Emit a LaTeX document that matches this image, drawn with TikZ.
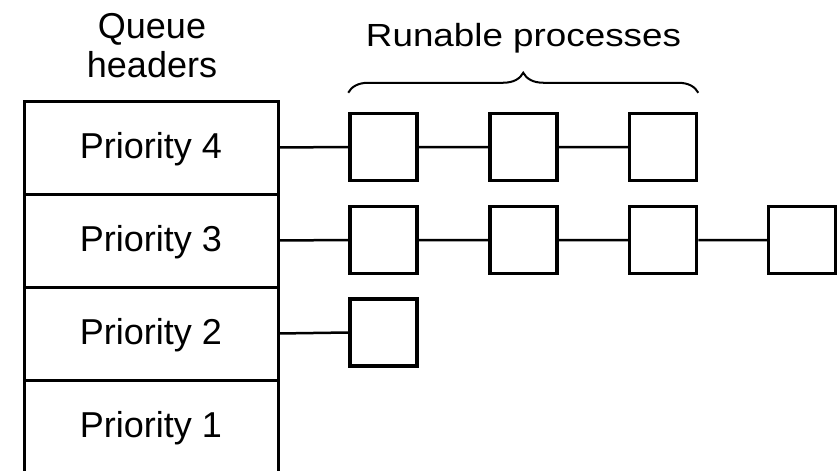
\documentclass[tikz,border=0pt]{standalone}
\usepackage{fontspec}
\setmainfont{Liberation Sans}
\usetikzlibrary{decorations.pathreplacing}
\tikzset{
  hdr/.style={draw, line width=3pt, minimum width=254pt, minimum height=93pt, inner sep=0pt, outer sep=0pt},
  proc/.style={draw, line width=3.5pt, minimum size=67pt, inner sep=0pt},
  link/.style={line width=2.5pt},
  lbl/.style={font=\fontsize{36}{39}\selectfont, inner sep=0pt, anchor=base},
  brc/.style={decorate, decoration={brace, amplitude=20pt}, line width=2pt}
}
\begin{document}
\begin{tikzpicture}[x=1pt,y=-1pt]
\useasboundingbox[fill=white] (0,0) rectangle (838,471);
% queue header rows
\node[hdr] (p4) at (151,147.5) {};
\node[hdr] (p3) at (151,240.5) {};
\node[hdr] (p2) at (151,333.5) {};
\node[hdr] (p1) at (151,426.5) {};
\node[lbl] (t4) at (151,158) {Priority 4};
\node[lbl] (t3) at (151,251) {Priority 3};
\node[lbl] (t2) at (151,344) {Priority 2};
\node[lbl] (t1) at (151,437) {Priority 1};
\node[lbl, align=center] (qh) at (152,77) {Queue\\headers};
% processes
\node[proc] (a1) at (383.5,147) {};
\node[proc] (a2) at (523.5,147) {};
\node[proc] (a3) at (663,147) {};
\node[proc] (b1) at (383.5,240) {};
\node[proc] (b2) at (523.5,240) {};
\node[proc] (b3) at (663,240) {};
\node[proc] (b4) at (802,240) {};
\node[proc] (c1) at (383.5,332.5) {};
\draw[link] (p4.east) -- (a1.west) (a1.east) -- (a2.west) (a2.east) -- (a3.west);
\draw[link] (p3.east) -- (b1.west) (b1.east) -- (b2.west) (b2.east) -- (b3.west) (b3.east) -- (b4.west);
\draw[link] (p2.east) -- (c1.west);
% brace
\coordinate (bl) at ([yshift=19pt]a1.north west);
\coordinate (br) at ([yshift=19pt]a3.north east);
\draw[brc] (bl) -- (br);
\node[lbl, font=\fontsize{32}{34}\selectfont, xscale=1.15] (rp) at (523.5,46) {Runable processes};
\end{tikzpicture}
\end{document}
